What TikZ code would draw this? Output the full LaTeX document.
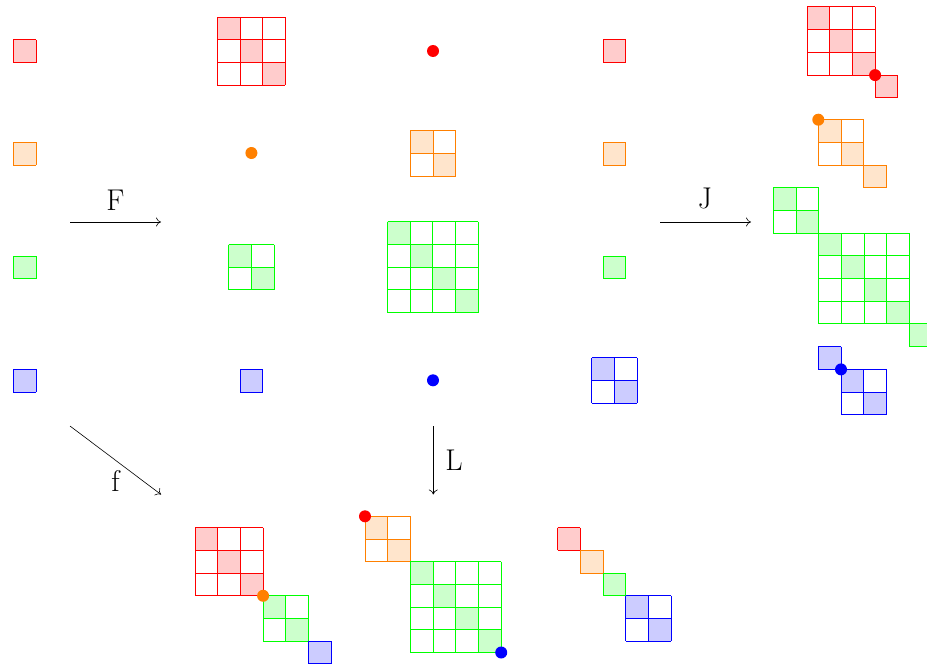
\documentclass[tikz,border=0pt]{standalone}
\usetikzlibrary{arrows.meta}
\newcommand\cellsz{22.7}
% \mblk{left}{top}{n}{colour}: n x n grid, diagonal cells filled
\newcommand\mblk[4]{%
  \foreach \k in {1,...,#3}{\fill[fill=#4!20] ({#1+(\k-1)*\cellsz},{#2+(\k-1)*\cellsz}) rectangle ++(\cellsz,\cellsz);}%
  \draw[cellline,draw=#4] foreach \k in {0,...,#3}{%
    ({#1+\k*\cellsz},#2) -- ++(0,{#3*\cellsz})
    (#1,{#2+\k*\cellsz}) -- ++({#3*\cellsz},0)};%
}
\begin{document}
\begin{tikzpicture}[x=1pt,y=-1pt,
  cellline/.style={line width=1pt},
  arr/.style={line width=0.6pt,-{To[length=5pt,width=9pt]}},
  lbl/.style={font=\fontsize{30}{32}\selectfont,inner sep=0pt},
  dotr/.style={radius=6pt}]
\useasboundingbox (0,0) rectangle (927,669);
% column 1
\mblk{13.3}{40}{1}{red}
\mblk{13.3}{142.3}{1}{orange}
\mblk{13.3}{256}{1}{green}
\mblk{13.3}{369.3}{1}{blue}
% column 2
\mblk{217.3}{17.3}{3}{red}
\fill[orange] (251.4,153) circle[dotr];
\mblk{228.7}{244.5}{2}{green}
\mblk{240.2}{369.3}{1}{blue}
% column 3
\fill[red] (433,51) circle[dotr];
\mblk{410.3}{130.6}{2}{orange}
\mblk{387.5}{221.7}{4}{green}
\fill[blue] (433,380.3) circle[dotr];
% column 4
\mblk{603.2}{40}{1}{red}
\mblk{603.2}{142.3}{1}{orange}
\mblk{603.2}{256}{1}{green}
\mblk{591.8}{357.8}{2}{blue}
% column 5
\mblk{807}{7}{3}{red}
\mblk{875.1}{75.1}{1}{red}
\fill[red] (875.1,75.1) circle[dotr];
\mblk{818.3}{119.7}{2}{orange}
\mblk{863.7}{165.1}{1}{orange}
\fill[orange] (818.3,119.7) circle[dotr];
\mblk{773.3}{187.7}{2}{green}
\mblk{818.7}{233.1}{4}{green}
\mblk{909.5}{323.9}{1}{green}
\mblk{818.3}{346.7}{1}{blue}
\mblk{841}{369.4}{2}{blue}
\fill[blue] (841,369.4) circle[dotr];
% bottom row
\mblk{195}{527.7}{3}{red}
\mblk{263.1}{595.8}{2}{green}
\mblk{308.5}{641.2}{1}{blue}
\fill[orange] (263.1,595.8) circle[dotr];
\mblk{365}{516.3}{2}{orange}
\mblk{410.4}{561.7}{4}{green}
\fill[red] (365,516.3) circle[dotr];
\fill[blue] (501.2,652.5) circle[dotr];
\mblk{557.7}{527.7}{1}{red}
\mblk{580.4}{550.4}{1}{orange}
\mblk{603.1}{573.1}{1}{green}
\mblk{625.8}{595.8}{2}{blue}
% arrows
\coordinate (F1) at (70,222); \coordinate (F2) at (161,222);
\coordinate (J1) at (660,222); \coordinate (J2) at (751,222);
\coordinate (f1) at (70,426); \coordinate (f2) at (161,494.5);
\coordinate (L1) at (433.3,426); \coordinate (L2) at (433.3,494.5);
\draw[arr] (F1) -- (F2);
\draw[arr] (J1) -- (J2);
\draw[arr] (f1) -- (f2);
\draw[arr] (L1) -- (L2);
\node[lbl,anchor=base] (Flbl) at (115.3,210.7) {F};
\node[lbl,anchor=center] (Jlbl) at (705,198.5) {J};
\node[lbl,anchor=base] (flbl) at (115.5,491.7) {f};
\node[lbl,anchor=base] (Llbl) at (454,470.7) {L};
\end{tikzpicture}
\end{document}
